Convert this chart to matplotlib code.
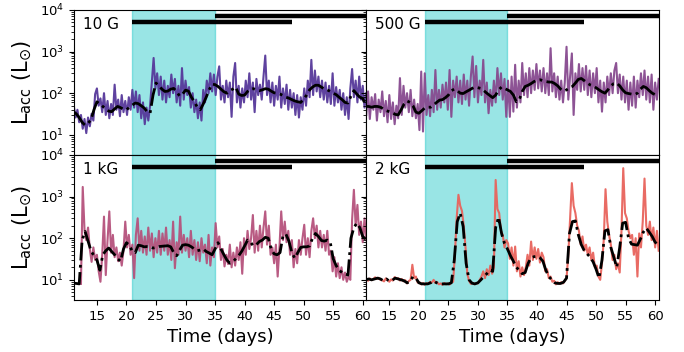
import numpy as np
import matplotlib
matplotlib.use("Agg")
import matplotlib.pyplot as plt

# ---------------------------------------------------------
# accretion luminosity light curves (L_sun), one per field
# fast cadence: every 0.3 d from day 11.1
# smoothed curve: every 0.5 d from day 11.0
# ---------------------------------------------------------
t0_fast, dt_fast = 11.1, 0.3
t0_smooth, dt_smooth = 11.0, 0.5

lacc_10G = [
    48, 26, 40, 20, 30, 14, 24, 11, 26, 16,
    32, 22, 95, 130, 50, 75, 35, 100, 30, 65,
    25, 55, 30, 160, 40, 70, 28, 90, 35, 65,
    30, 80, 40, 120, 45, 110, 35, 90, 25, 60,
    18, 45, 22, 50, 180, 700, 130, 300, 90, 250,
    70, 200, 60, 150, 80, 280, 100, 220, 60, 150,
    50, 400, 70, 200, 90, 140, 45, 100, 35, 70,
    25, 60, 22, 120, 60, 200, 100, 300, 110, 280,
    90, 250, 440, 70, 150, 60, 200, 80, 180, 27,
    250, 530, 60, 150, 45, 130, 60, 200, 80, 300,
    70, 180, 35, 220, 90, 160, 70, 250, 800, 90,
    200, 60, 180, 50, 150, 70, 250, 45, 130, 55,
    160, 40, 120, 45, 100, 30, 90, 26, 80, 40,
    130, 50, 200, 80, 630, 90, 350, 110, 250, 80,
    200, 70, 180, 60, 150, 55, 300, 50, 140, 60,
    120, 40, 100, 30, 80, 24, 130, 380, 80, 200,
    60, 250, 70, 150, 45, 100,
]

lacc_500G = [
    30, 110, 24, 80, 40, 95, 22, 70, 35, 110,
    28, 65, 20, 90, 24, 60, 18, 50, 25, 230,
    30, 150, 45, 100, 35, 120, 28, 70, 25, 55,
    13, 330, 12, 300, 30, 90, 28, 120, 35, 360,
    40, 120, 45, 160, 60, 180, 40, 360, 27, 200,
    80, 250, 60, 200, 55, 280, 70, 200, 50, 250,
    760, 80, 450, 60, 200, 90, 630, 60, 180, 33,
    120, 50, 200, 60, 400, 90, 300, 70, 220, 27,
    200, 27, 250, 36, 480, 45, 200, 60, 530, 90,
    300, 80, 400, 100, 350, 120, 500, 130, 350, 110,
    400, 100, 300, 90, 1200, 110, 300, 80, 250, 70,
    200, 60, 180, 1300, 70, 250, 900, 30, 300, 120,
    500, 110, 400, 120, 450, 90, 350, 80, 300, 100,
    400, 60, 200, 36, 180, 60, 250, 90, 300, 100,
    350, 530, 100, 280, 70, 250, 60, 200, 40, 180,
    50, 250, 45, 200, 80, 300, 90, 350, 70, 250,
    60, 280, 40, 180, 70, 220,
]

lacc_1kG = [
    np.nan, np.nan, np.nan, np.nan, 8, 1700, 160, 90, 180, 55,
    27, 60, 30, 40, 16, 9, 40, 330, 13, 90,
    440, 45, 120, 35, 60, 28, 45, 22, 50, 250,
    60, 120, 40, 70, 11, 120, 300, 50, 150, 45,
    110, 40, 180, 50, 130, 35, 100, 45, 150, 40,
    130, 50, 180, 40, 90, 30, 250, 19, 80, 40,
    330, 45, 120, 50, 100, 35, 150, 40, 90, 30,
    80, 28, 100, 45, 70, 25, 120, 22, 60, 35,
    230, 60, 110, 30, 55, 21, 40, 24, 70, 20,
    45, 22, 60, 30, 80, 14, 100, 40, 150, 55,
    100, 360, 45, 150, 50, 200, 60, 180, 440, 70,
    200, 40, 60, 25, 70, 12, 60, 440, 90, 250,
    80, 150, 40, 90, 20, 55, 25, 90, 40, 100,
    210, 40, 100, 35, 150, 300, 100, 200, 60, 150,
    60, 120, 50, 150, 40, 50, 16, 35, 12, 25,
    11, 20, 10, 15, 9, 12, 10, 280, 1450, 200,
    630, 120, 250, 80, 300, 90,
]

lacc_2kG = [
    10.5, 9.5, 10.8, 9.8, 10.5, 11.5, 10.5, 11.2, 10, 9.8,
    9.2, 10.8, 10, 9, 10.2, 9.6, 11.6, 10.5, 11, 9.6,
    10.5, 9.2, 9.8, 8.2, 9.4, 10, 23, 11, 12, 8.6,
    8.8, 7.8, 8.4, 7.6, 8.3, 8, 9, 8.6, 10, 8.4,
    8.8, 7.8, 8.2, 7.6, 8.4, 7.8, 8.2, 7.7, 8.6, 9,
    40, 300, 1100, 600, 450, 200, 60, 14, 9.5, 8,
    8.5, 7.8, 8.4, 8.2, 10, 12, 16, 11, 18, 13,
    22, 14, 20, 2500, 500, 400, 150, 120, 60, 90,
    75, 32, 60, 22, 63, 16, 28, 12, 20, 13,
    20, 40, 22, 83, 30, 60, 32, 55, 26, 45,
    35, 16, 18, 11, 12, 9, 9.5, 7.8, 8.8, 8,
    8.8, 8.2, 9.5, 11, 40, 300, 2100, 600, 400, 200,
    150, 70, 110, 50, 70, 40, 60, 30, 45, 20,
    22, 12, 10, 25, 90, 1500, 250, 120, 70, 30,
    40, 18, 25, 15, 150, 4800, 400, 300, 150, 100,
    120, 40, 100, 12, 130, 60, 250, 2700, 200, 120,
    250, 90, 180, 60, 150, 50,
]

smooth_10G = [
    36, 32, 26, 20, 17, 19, 23, 40, 62, 55,
    48, 42, 37, 36, 42, 48, 45, 41, 40, 46,
    52, 58, 56, 50, 44, 36, 33, 90, 175, 150,
    125, 110, 112, 125, 130, 110, 85, 95, 118, 112,
    80, 62, 46, 40, 55, 80, 120, 165, 160, 145,
    125, 108, 100, 115, 125, 140, 95, 88, 90, 110,
    125, 128, 120, 115, 120, 128, 125, 112, 102, 100,
    95, 88, 80, 76, 70, 65, 62, 60, 72, 90,
    120, 140, 155, 155, 140, 125, 120, 110, 100, 92,
    80, 70, 60, 58, 85, 115, 95, 80, 75, 50,
]

smooth_500G = [
    48, 48, 46, 48, 48, 46, 42, 38, 36, 34,
    31, 30, 40, 55, 65, 60, 50, 35, 33, 38,
    44, 46, 46, 52, 60, 68, 70, 78, 90, 115,
    125, 115, 100, 98, 108, 118, 130, 140, 135, 130,
    115, 100, 88, 78, 90, 120, 140, 130, 120, 110,
    90, 62, 70, 110, 145, 155, 170, 190, 205, 210,
    200, 190, 185, 185, 170, 150, 125, 112, 120, 135,
    145, 175, 215, 225, 200, 175, 158, 150, 135, 120,
    108, 100, 120, 150, 170, 175, 150, 120, 102, 98,
    95, 92, 100, 125, 145, 135, 115, 100, 92, 96,
]

smooth_1kG = [
    8.3, 8.2, 8.0, 90, 145, 85, 50, 38, 30, 17,
    40, 50, 58, 48, 40, 32, 28, 55, 78, 68,
    48, 45, 68, 66, 62, 63, 62, 58, 60, 63,
    64, 65, 66, 62, 45, 38, 52, 68, 70, 68,
    62, 55, 50, 52, 55, 48, 44, 40, 55, 78,
    55, 40, 30, 25, 27, 32, 38, 48, 65, 90,
    80, 65, 70, 83, 90, 105, 100, 55, 42, 40,
    45, 115, 125, 85, 45, 33, 45, 60, 62, 62,
    65, 100, 130, 110, 88, 85, 90, 80, 32, 22,
    17, 15, 14, 13, 100, 180, 230, 180, 110, 95,
]

smooth_2kG = [
    10, 10.5, 10, 10.5, 11, 10.5, 9.5, 10.5, 9.3, 9.8,
    11, 10.5, 10, 9.5, 8.5, 9, 12, 11, 8.5, 8,
    8, 8, 8.5, 9.5, 8.5, 8, 8, 8, 8, 8.5,
    30, 250, 400, 190, 25, 10, 8.3, 8, 8.5, 10,
    12, 14, 17, 16, 180, 320, 130, 75, 55, 38,
    28, 20, 17, 14, 15, 25, 34, 36, 37, 34,
    28, 17, 12, 10, 8.5, 8.2, 8.2, 8.8, 11, 130,
    250, 260, 120, 70, 50, 42, 35, 27, 18, 11,
    30, 150, 160, 60, 35, 20, 60, 230, 240, 100,
    72, 70, 68, 95, 140, 175, 140, 110, 80, 70,
]

panel_labels = ["10 G", "500 G", "1 kG", "2 kG"]
fast_series = [lacc_10G, lacc_500G, lacc_1kG, lacc_2kG]
smooth_series = [smooth_10G, smooth_500G, smooth_1kG, smooth_2kG]
line_colors = ["#56389a", "#874a8f", "#b5527c", "#e8635c"]

# observing windows: shaded interval and the two coverage bars
shade_span = (21, 35)
bar_low = (21, 48, 5.1e3)
bar_high = (35, 62, 7.2e3)

fig, axs = plt.subplots(2, 2, figsize=(6.84, 3.52), dpi=100,
                        sharex=True, sharey=True)
fig.subplots_adjust(left=0.108, right=0.963, top=0.972, bottom=0.148,
                    wspace=0, hspace=0)

for ax, label, fast, smooth, col in zip(axs.flat, panel_labels,
                                        fast_series, smooth_series,
                                        line_colors):
    t_fast = t0_fast + dt_fast * np.arange(len(fast))
    t_smooth = t0_smooth + dt_smooth * np.arange(len(smooth))

    ax.axvspan(*shade_span, color="c", alpha=0.4, zorder=0)
    ax.plot(t_fast, fast, color=col, lw=1.5, alpha=0.95, zorder=2)
    ax.plot(t_smooth, smooth, color="k", ls="-.", lw=2.0, zorder=3)

    ax.hlines(bar_low[2], bar_low[0], bar_low[1], color="k", lw=3.2,
              zorder=4)
    ax.hlines(bar_high[2], bar_high[0], bar_high[1], color="k", lw=3.2,
              zorder=4)

    ax.text(0.03, 0.9, label, transform=ax.transAxes, fontsize=11,
            va="center", ha="left")

ax = axs[0, 0]
ax.set_yscale("log")
ax.set_ylim(3.3, 1e4)
ax.set_xlim(11.1, 60.6)
ax.set_xticks([15, 20, 25, 30, 35, 40, 45, 50, 55, 60])

for a in axs.flat:
    a.tick_params(labelsize=9.5)

for a in axs[:, 0]:
    a.set_ylabel(r"$\mathrm{L_{acc}}$ ($\mathrm{L_{\odot}}$)", fontsize=15)
for a in axs[1, :]:
    a.set_xlabel("Time (days)", fontsize=13)

fig.savefig("out.png", dpi=100)
